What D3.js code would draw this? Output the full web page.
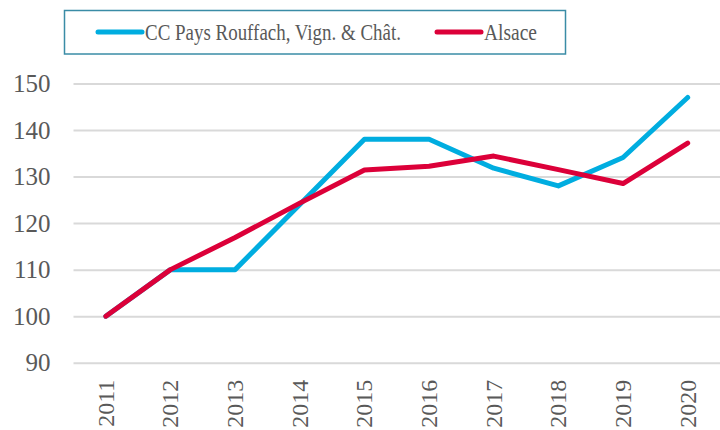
<!DOCTYPE html>
<html>
<head>
<meta charset="utf-8">
<script src="https://cdn.jsdelivr.net/npm/d3@7"></script>
<style>
  body { margin: 0; background: #fff; }
</style>
</head>
<body>
<div id="chart"></div>
<script>
// DONNEES
const years = ["2011", "2012", "2013", "2014", "2015", "2016", "2017", "2018", "2019", "2020"];
const rouffach = [100, 110, 110, 124, 138, 138, 131.8, 128, 134.1, 147];
const alsace = [100, 110, 116.9, 124.3, 131.4, 132.2, 134.4, 131.5, 128.5, 137.2];
const yTicks = [90, 100, 110, 120, 130, 140, 150];
const seriesNames = ["CC Pays Rouffach, Vign. & Chât.", "Alsace"];

const width = 720, height = 430;
const margin = { top: 83.5, right: 0, bottom: 67.3, left: 73.5 };
const font = "Liberation Serif, serif";

const svg = d3.select("#chart")
    .append("svg")
    .attr("width", width)
    .attr("height", height);

// ECHELLES
const xScale = d3.scaleBand()
    .domain(years)
    .range([margin.left, width - margin.right]);

const yScale = d3.scaleLinear()
    .domain([90, 150])
    .range([height - margin.bottom, margin.top]);

// GRILLE + AXE Y
const yAxis = d3.axisLeft(yScale)
    .tickValues(yTicks)
    .tickSize(-(width - margin.left - margin.right))
    .tickPadding(23);

const gy = svg.append("g")
    .attr("transform", `translate(${margin.left},0)`)
    .call(yAxis);
gy.select(".domain").remove();
gy.selectAll(".tick line")
    .attr("stroke", "#d9d9d9")
    .attr("stroke-width", 2);
gy.selectAll(".tick text")
    .attr("fill", "#595959")
    .attr("font-family", font)
    .attr("font-size", "25px");

// AXE X
const xAxis = d3.axisBottom(xScale).tickSize(0);
const gx = svg.append("g")
    .attr("transform", `translate(0,${height - margin.bottom})`)
    .call(xAxis);
gx.select(".domain").remove();
gx.selectAll(".tick text")
    .attr("fill", "#595959")
    .attr("font-family", font)
    .attr("font-size", "24px")
    .attr("text-anchor", "end")
    .attr("dy", "0.33em")
    .attr("transform", "translate(0,17) rotate(-90)")
    .attr("x", 0)
    .attr("y", 0);

// LIGNES
const line = d3.line()
    .x((d, i) => xScale(years[i]) + xScale.bandwidth() / 2)
    .y(d => yScale(d));

const series = [
    { name: seriesNames[0], values: rouffach, color: "#00ade0" },
    { name: seriesNames[1], values: alsace, color: "#dc0039" }
];

series.forEach(s => {
    svg.append("path")
        .datum(s.values)
        .attr("fill", "none")
        .attr("stroke", s.color)
        .attr("stroke-width", 5)
        .attr("stroke-linejoin", "round")
        .attr("stroke-linecap", "round")
        .attr("d", line);
});

// LEGENDE
const legend = svg.append("g");
legend.append("rect")
    .attr("x", 64.5)
    .attr("y", 10.5)
    .attr("width", 501)
    .attr("height", 43.5)
    .attr("fill", "#fff")
    .attr("stroke", "#3a8ca6")
    .attr("stroke-width", 1.5);

const legendItems = [
    { x: 98, textW: 256 },
    { x: 437, textW: 53 }
];

series.forEach((s, i) => {
    const it = legendItems[i];
    legend.append("line")
        .attr("x1", it.x).attr("x2", it.x + 44)
        .attr("y1", 32).attr("y2", 32)
        .attr("stroke", s.color)
        .attr("stroke-width", 5)
        .attr("stroke-linecap", "round");
    legend.append("text")
        .attr("x", it.x + 47)
        .attr("y", 32)
        .attr("dy", "0.35em")
        .attr("fill", "#595959")
        .attr("font-family", font)
        .attr("font-size", "23px")
        .attr("textLength", it.textW)
        .attr("lengthAdjust", "spacingAndGlyphs")
        .text(s.name);
});
</script>
</body>
</html>
